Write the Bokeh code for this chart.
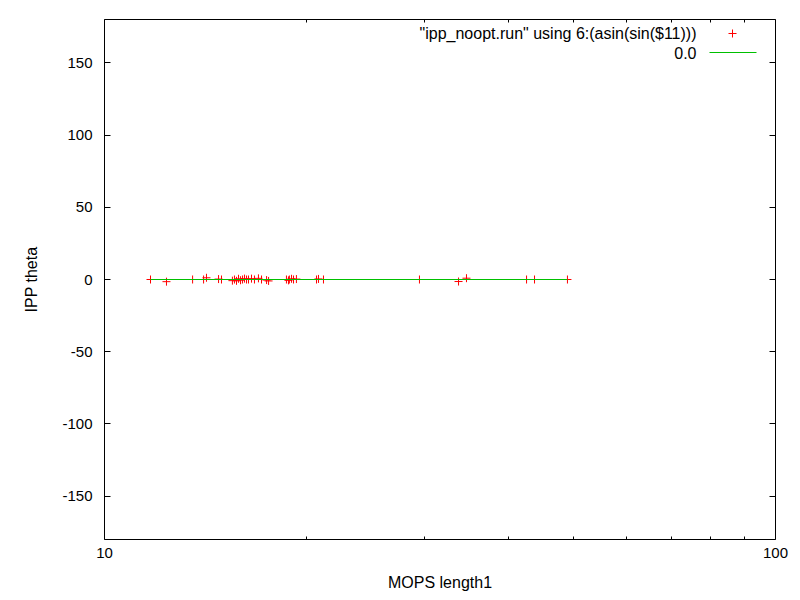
from bokeh.plotting import figure
from bokeh.models import (LogAxis, LinearAxis, FixedTicker, Range1d, Label,
                          BoxAnnotation, ColumnDataSource, LogScale)
from bokeh.embed import file_html
from bokeh.resources import INLINE

# ---- data ----
mops_length1 = [11.71, 12.37, 13.53, 14.05, 14.19, 14.79, 14.94, 15.51, 15.62,
                15.73, 15.84, 15.95, 16.06, 16.17, 16.28, 16.39, 16.56, 16.73,
                16.96, 17.14, 17.44, 17.56, 18.67, 18.80, 18.86, 19.00, 19.13,
                19.32, 20.70, 20.84, 21.20, 29.47, 33.70, 34.63, 42.56, 43.74,
                48.97]
ipp_theta = [0, -1.5, 0, 0, 1.2, 0.3, 0, -0.8, 0, -0.9, 0.5, -0.5, 0, 0.6, 0,
             0, 0.6, 0, 0.8, 0, -0.4, -1.0, 0, -0.6, 0, 0.5, 0, 0.3, 0, 0.4, 0,
             0, -1.4, 0.9, 0, 0, 0]
const_level = 0.0
x_major_ticks = [10, 100]
x_tick_labels = ["10", "100"]
x_minor_ticks = [20, 30, 40, 50, 60, 70, 80, 90]
y_ticks = [-150, -100, -50, 0, 50, 100, 150]
y_tick_labels = ["-150", "-100", "-50", "0", "50", "100", "150"]
series_labels = ['"ipp_noopt.run" using 6:(asin(sin($11)))', "0.0"]

FONT = "Liberation Sans"
FS_TICK = "15px"
FS_TEXT = "16px"
RED = "#ff0000"
GREEN = "#00c000"

p = figure(x_axis_type=None, y_axis_type=None,
           x_range=Range1d(10, 100), y_range=Range1d(-180, 180),
           frame_width=671, frame_height=520,
           min_border_left=104, min_border_top=19,
           min_border_right=25, min_border_bottom=61,
           output_backend="svg", toolbar_location=None)
p.x_scale = LogScale()

p.xgrid.visible = False
p.ygrid.visible = False
p.outline_line_color = "black"
p.outline_line_width = 1
p.background_fill_color = "white"
p.border_fill_color = "white"

xt = FixedTicker(ticks=x_major_ticks, minor_ticks=x_minor_ticks)
yt = FixedTicker(ticks=y_ticks)


def style(ax, labels=None):
    ax.axis_line_color = None
    ax.major_tick_in = 6
    ax.major_tick_out = 0
    ax.minor_tick_in = 3
    ax.minor_tick_out = 0
    ax.major_tick_line_color = "black"
    ax.minor_tick_line_color = "black"
    ax.major_label_text_font = FONT
    ax.major_label_text_color = "black"
    ax.axis_label_text_font = FONT
    ax.axis_label_text_font_size = FS_TEXT
    ax.axis_label_text_font_style = "normal"
    ax.axis_label_text_color = "black"
    if labels is not None:
        ax.major_label_text_font_size = FS_TICK
        ax.major_label_overrides = {t: s for t, s in zip(ax.ticker.ticks, labels)}
    else:
        ax.major_label_text_font_size = "0px"
        ax.major_label_standoff = 0
        ax.major_label_overrides = {t: "" for t in ax.ticker.ticks}


xb = LogAxis(ticker=xt, axis_label="MOPS length1")
style(xb, x_tick_labels)
xb.major_label_standoff = 8
xb.axis_label_standoff = 13
p.add_layout(xb, "below")

xa = LogAxis(ticker=xt)
style(xa)
p.add_layout(xa, "above")

yl = LinearAxis(ticker=yt, axis_label="IPP theta")
style(yl, y_tick_labels)
yl.major_label_standoff = 12
yl.axis_label_standoff = 19
p.add_layout(yl, "left")

yr = LinearAxis(ticker=yt)
style(yr)
p.add_layout(yr, "right")

src = ColumnDataSource(dict(x=mops_length1, y=ipp_theta))
p.scatter("x", "y", source=src, marker="cross", size=8,
          line_color=RED, line_width=1)

# constant function 0.0 over the sampled x-range of the data
p.line(x=[min(mops_length1), max(mops_length1)], y=[const_level, const_level],
       line_color=GREEN, line_width=1)

# ---- gnuplot-style key (text left, sample right), frame-relative screen units ----
fh = 520
row1 = fh - 14
row2 = fh - 33
text_right = 592
for lab, yy in zip(series_labels, [row1, row2]):
    p.add_layout(Label(x=text_right, y=yy, x_units="screen", y_units="screen",
                       text=lab, text_align="right", text_baseline="middle",
                       text_font=FONT, text_font_size=FS_TEXT, text_color="black"))
cx = 628
p.add_layout(BoxAnnotation(left=cx - 4, right=cx + 4, bottom=row1 - 0.5, top=row1 + 0.5,
                           left_units="screen", right_units="screen",
                           bottom_units="screen", top_units="screen",
                           fill_color=RED, fill_alpha=1, line_color=None))
p.add_layout(BoxAnnotation(left=cx - 0.5, right=cx + 0.5, bottom=row1 - 4, top=row1 + 4,
                           left_units="screen", right_units="screen",
                           bottom_units="screen", top_units="screen",
                           fill_color=RED, fill_alpha=1, line_color=None))
p.add_layout(BoxAnnotation(left=605, right=652, bottom=row2 - 0.5, top=row2 + 0.5,
                           left_units="screen", right_units="screen",
                           bottom_units="screen", top_units="screen",
                           fill_color=GREEN, fill_alpha=1, line_color=None))

open("out.html", "w").write(file_html(p, INLINE))
